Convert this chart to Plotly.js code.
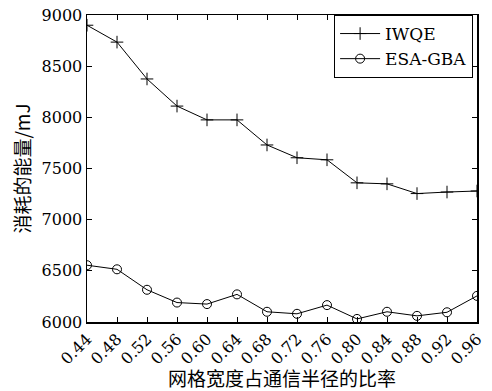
<!DOCTYPE html>
<html><head><meta charset="utf-8">
<script src="https://cdn.plot.ly/plotly-3.0.1.min.js"></script>
<style>body{margin:0;background:#fff}#c{width:492px;height:391px}</style>
</head><body><div id="c"></div>
<script>
const xVals = [0.44,0.48,0.52,0.56,0.60,0.64,0.68,0.72,0.76,0.80,0.84,0.88,0.92,0.96];
const tickLabels = ["0.44","0.48","0.52","0.56","0.60","0.64","0.68","0.72","0.76","0.80","0.84","0.88","0.92","0.96"];
const iwqe = [8900,8735,8375,8110,7975,7975,7730,7605,7585,7360,7350,7255,7270,7280];
const esaGba = [6555,6515,6315,6190,6175,6270,6100,6080,6165,6030,6100,6060,6095,6255];
const serif = "'DejaVu Serif', 'Liberation Serif', serif";
const cjk = "'Noto Sans CJK SC', sans-serif";
const traces = [
  {x:xVals, y:iwqe, name:"IWQE", mode:"lines+markers",
   line:{color:"#000", width:1}, marker:{symbol:"cross-thin-open", size:9, line:{color:"#000", width:1}, color:"#000"}},
  {x:xVals, y:esaGba, name:"ESA-GBA", mode:"lines+markers",
   line:{color:"#000", width:1}, marker:{symbol:"circle-open", size:9, line:{color:"#000", width:1}, color:"#000"}}
];
const layout = {
  width:492, height:391,
  margin:{l:87, r:15, t:15, b:69},
  paper_bgcolor:"#fff", plot_bgcolor:"#fff",
  showlegend:true,
  legend:{x:0.99, y:1, xanchor:"right", yanchor:"top", bordercolor:"#000", borderwidth:1,
    bgcolor:"#fff", font:{family:serif, size:17, color:"#000"}, tracegroupgap:0, itemwidth:40},
  xaxis:{range:[0.44,0.96], tickvals:xVals, ticktext:tickLabels, tickangle:-45,
    ticks:"inside", ticklen:5, tickcolor:"#000", showline:true, linecolor:"#000", linewidth:1.5,
    mirror:"ticks", showgrid:false, zeroline:false,
    tickfont:{family:serif, size:16, color:"#000"},
    title:{text:"网格宽度占通信半径的比率", font:{family:cjk, size:19, color:"#000"}, standoff:6}},
  yaxis:{range:[6000,9000], tickvals:[6000,6500,7000,7500,8000,8500,9000],
    ticks:"inside", ticklen:5, tickcolor:"#000", showline:true, linecolor:"#000", linewidth:1.5,
    mirror:"ticks", showgrid:false, zeroline:false,
    tickfont:{family:serif, size:16, color:"#000"},
    title:{text:"消耗的能量/mJ", font:{family:cjk, size:19, color:"#000"}, standoff:6}}
};
Plotly.newPlot("c", traces, layout, {displayModeBar:false, staticPlot:true});
</script></body></html>
